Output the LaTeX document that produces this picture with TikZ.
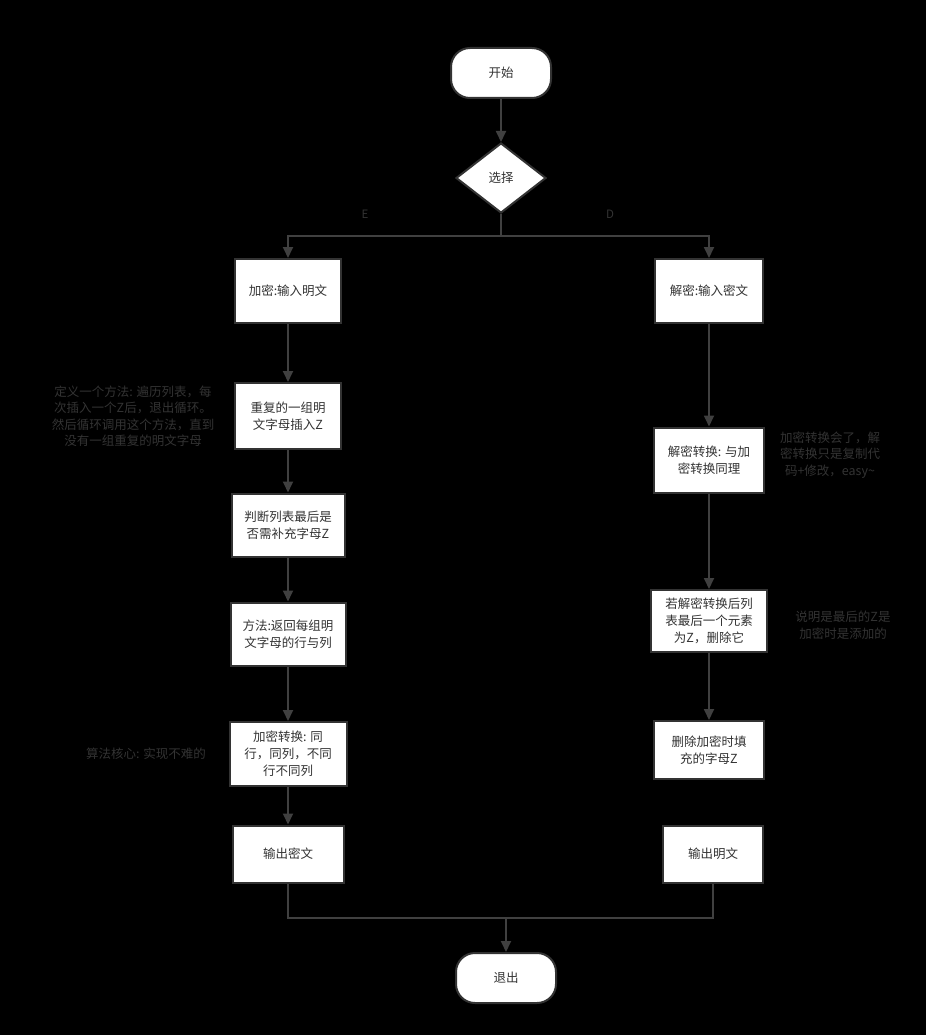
\documentclass[tikz,border=0pt]{standalone}
\usepackage{fontspec}
\setmainfont{Noto Sans CJK SC}
\usetikzlibrary{shapes.geometric,arrows.meta}
\definecolor{edge}{HTML}{404040}
\definecolor{bord}{HTML}{333333}
\definecolor{txt}{HTML}{333333}
\definecolor{note}{HTML}{333333}
\tikzset{
  box/.style={draw=bord,line width=2pt,fill=white,text=txt,align=center,inner sep=2pt,font=\fontsize{12.5}{17}\selectfont},
  term/.style={box,rounded corners=19pt,minimum width=100pt,minimum height=50pt},
  choice/.style={box,diamond,minimum width=90pt,minimum height=70pt,inner sep=0pt},
  conn/.style={draw=edge,line width=1.8pt},
  arr/.style={conn,-{Triangle[width=10pt,length=11pt]}},
  anno/.style={text=note,align=center,font=\fontsize{12.5}{16.5}\selectfont},
  lab/.style={text=note,font=\fontsize{11.5}{13}\selectfont}
}
\begin{document}
\begin{tikzpicture}[x=1pt,y=-1pt]
\fill[black] (0,0) rectangle (926,1035);
\useasboundingbox (0,0) rectangle (926,1035);

\node[term] (start) at (501,73) {开始};
\node[choice] (sel) at (501,178) {选择};

\node[box,minimum width=106pt,minimum height=64pt] (enc) at (288,291) {加密:输入明文};
\node[box,minimum width=106pt,minimum height=66pt] (rep) at (288,416) {重复的一组明\\文字母插入Z};
\node[box,minimum width=113pt,minimum height=63pt] (judge) at (288,525) {判断列表最后是\\否需补充字母Z};
\node[box,minimum width=115pt,minimum height=63pt] (meth) at (288,634) {方法:返回每组明\\文字母的行与列};
\node[box,minimum width=117pt,minimum height=64pt] (econv) at (288,754) {加密转换: 同\\行，同列，不同\\行不同列};
\node[box,minimum width=111pt,minimum height=57pt] (outc) at (288,854) {输出密文};

\node[box,minimum width=108pt,minimum height=64pt] (dec) at (709,291) {解密:输入密文};
\node[box,minimum width=110pt,minimum height=65pt] (dconv) at (709,460) {解密转换: 与加\\密转换同理};
\node[box,minimum width=116pt,minimum height=62pt] (rmz) at (709,621) {若解密转换后列\\表最后一个元素\\为Z，删除它};
\node[box,minimum width=110pt,minimum height=58pt] (delz) at (709,750) {删除加密时填\\充的字母Z};
\node[box,minimum width=100pt,minimum height=57pt] (outp) at (713,854) {输出明文};

\node[term] (exit) at (506,978) {退出};

\node[lab] (le) at (365,214) {E};
\node[lab] (ld) at (610,214) {D};

\node[anno] (n1) at (133,416) {定义一个方法: 遍历列表，每\\次插入一个Z后，退出循环。\\然后循环调用这个方法，直到\\没有一组重复的明文字母};
\node[anno] (n2) at (830,455) {加密转换会了，解\\密转换只是复制代\\码+修改，easy\textasciitilde};
\node[anno] (n3) at (843,625) {说明是最后的Z是\\加密时是添加的};
\node[anno] (n4) at (146,754) {算法核心: 实现不难的};

\coordinate (sp) at (501,236);
\coordinate (jn) at (506,918);

\draw[arr] (start) -- (sel);
\draw[conn] (sel.south) -- (sp);
\draw[arr] (sp) -| (enc.north);
\draw[arr] (sp) -| (dec.north);
\draw[arr] (enc) -- (rep);
\draw[arr] (rep) -- (judge);
\draw[arr] (judge) -- (meth);
\draw[arr] (meth) -- (econv);
\draw[arr] (econv) -- (outc);
\draw[arr] (dec) -- (dconv);
\draw[arr] (dconv) -- (rmz);
\draw[arr] (rmz) -- (delz);
\draw[conn] (outc.south) |- (jn) -| (outp.south);
\draw[arr] (jn) -- (exit);
\end{tikzpicture}
\end{document}
